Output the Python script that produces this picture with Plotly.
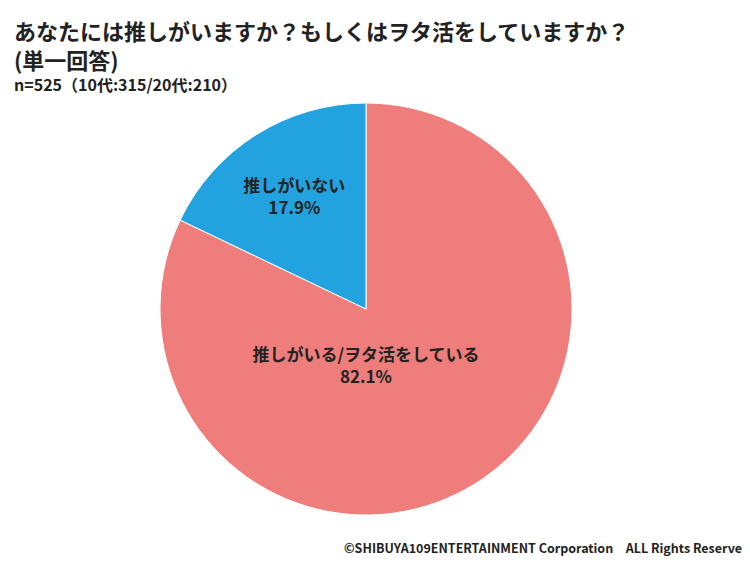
import plotly.graph_objects as go

labels = ["推しがいる/ヲタ活をしている", "推しがいない"]
values = [82.1, 17.9]
colors = ["#EE7D7B", "#22A3DF"]

fig = go.Figure(go.Pie(
    labels=labels, values=values, sort=False, direction="clockwise", rotation=0,
    marker=dict(colors=colors, line=dict(color="white", width=1)),
    texttemplate="<b>%{label}<br>%{value:.1f}%</b>", textposition="inside",
    insidetextorientation="horizontal",
    textfont=dict(family="Noto Sans CJK JP", size=17, color="#222"),
    domain=dict(x=[152/750, 564/750], y=[1-507/585, 1-95/585]),
    hoverinfo="skip",
))
fig.update_layout(
    width=750, height=585, margin=dict(l=0, r=0, t=0, b=0),
    paper_bgcolor="white", showlegend=False,
    font=dict(family="Noto Sans CJK JP"),
    annotations=[
        dict(x=4/750, y=1-4/585, xref="paper", yref="paper", xanchor="left", yanchor="top", align="left",
             text="<b>あなたには推しがいますか？もしくはヲタ活をしていますか？<br>(単一回答)</b>",
             showarrow=False, font=dict(size=22, color="#222")),
        dict(x=4/750, y=1-62/585, xref="paper", yref="paper", xanchor="left", yanchor="top",
             text="<b>n=525（10代:315/20代:210）</b>", showarrow=False, font=dict(size=16, color="#222")),
        dict(x=748/750, y=1-528/585, xref="paper", yref="paper", xanchor="right", yanchor="top",
             text="<b>©SHIBUYA109ENTERTAINMENT Corporation　ALL Rights Reserved.</b>",
             showarrow=False, font=dict(size=12.5, color="#222")),
    ],
)
fig.write_html("out.html")
